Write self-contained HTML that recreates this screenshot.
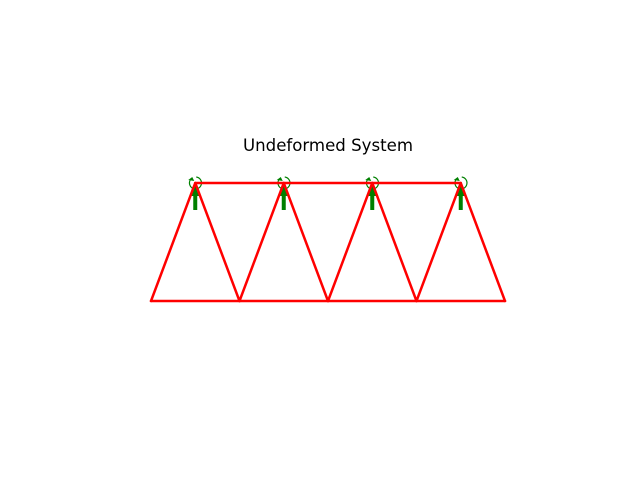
<!DOCTYPE html>
<html><head><meta charset="utf-8"><style>body{margin:0;background:#fff}svg{display:block}</style></head>
<body>
<svg id="c" width="640" height="480" xmlns="http://www.w3.org/2000/svg">
<text x="328" y="151" text-anchor="middle" font-family="DejaVu Sans, sans-serif" font-size="16.6">Undeformed System</text>
<g id="loads"></g><g id="els"></g>
</svg>
<script>
const nodeX = [0, 1, 2, 3, 4, 0.5, 1.5, 2.5, 3.5];
const nodeY = [0, 0, 0, 0, 0, 1, 1, 1, 1];
const elemA = [0,1,2,3,0,5,1,6,2,7,3,8,5,6,7];
const elemB = [1,2,3,4,5,1,6,2,7,3,8,4,6,7,8];
const loadNodes = [5,6,7,8];
const sx = v => 151 + v * 88.5;
const sy = v => 301 - v * 118;
const NS = 'http://www.w3.org/2000/svg';
const els = document.getElementById('els');
for (let i = 0; i < elemA.length; i++) {
  const l = document.createElementNS(NS, 'line');
  l.setAttribute('x1', sx(nodeX[elemA[i]])); l.setAttribute('y1', sy(nodeY[elemA[i]]));
  l.setAttribute('x2', sx(nodeX[elemB[i]])); l.setAttribute('y2', sy(nodeY[elemB[i]]));
  l.setAttribute('stroke', '#ff0000'); l.setAttribute('stroke-width', '2.5');
  l.setAttribute('stroke-linecap', 'round');
  
  
  els.appendChild(l);
}
const loads = document.getElementById('loads');
for (const n of loadNodes) {
  const x = sx(nodeX[n]), y = sy(nodeY[n]);
  const g = document.createElementNS(NS, 'g');
  
  
  g.innerHTML = `<path d="M ${x+1} ${y-6} A 6 6 0 1 1 ${x-5} ${y-3}" fill="none" stroke="green" stroke-width="1.2"/>
  <polygon points="${x-7},${y-3} ${x-3},${y-6} ${x-1},${y-2}" fill="green"/>
  <rect x="${x-2}" y="${y+10}" width="4" height="17" fill="green"/>
  <polygon points="${x-5},${y+13} ${x+5},${y+13} ${x},${y+1}" fill="green"/>`;
  loads.appendChild(g);
}
</script>
</body></html>
